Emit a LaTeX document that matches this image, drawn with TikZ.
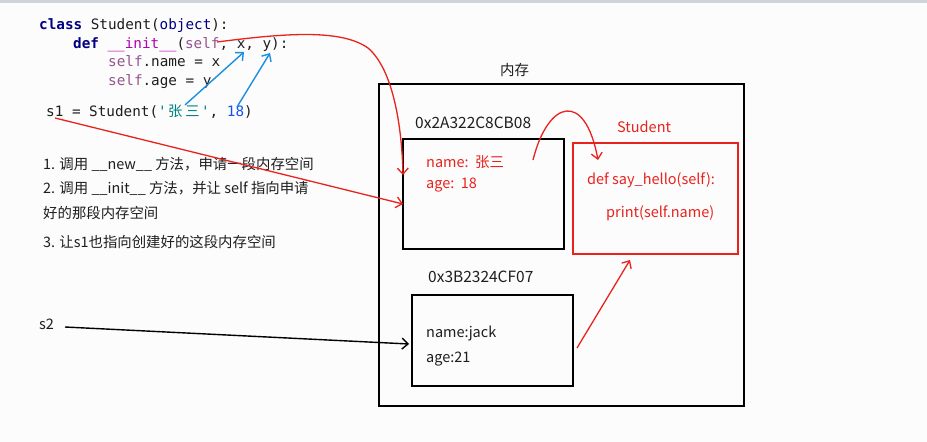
\documentclass[tikz,border=0pt]{standalone}
\usepackage{fontspec}
\setmainfont{Noto Sans CJK SC}
\newfontfamily\cjk{Noto Sans CJK SC}
\newfontfamily\codefont{DejaVu Sans Mono}
\usetikzlibrary{arrows.meta}
\definecolor{kw}{HTML}{000080}
\definecolor{magic}{HTML}{B200B2}
\definecolor{selfc}{HTML}{94558D}
\definecolor{strc}{HTML}{008080}
\definecolor{numc}{HTML}{1750EB}
\definecolor{pen}{HTML}{E8231E}
\definecolor{bluepen}{HTML}{1A8FE0}
\definecolor{txt}{HTML}{1E1E1E}
\definecolor{bg}{HTML}{FCFCFC}
\definecolor{bar}{HTML}{D0D4D8}
\newcommand{\cz}[1]{\makebox[17.2pt][c]{\cjk #1}}
\begin{document}
\begin{tikzpicture}[x=1pt,y=-1pt,
  code/.style={anchor=base west,inner sep=0pt,font=\codefont\fontsize{14.3}{17}\selectfont,text=txt},
  note/.style={anchor=base west,inner sep=0pt,font=\fontsize{14.4}{17}\selectfont,text=txt},
  lbl/.style={anchor=base west,inner sep=0pt,font=\fontsize{14.5}{17}\selectfont,text=txt},
  addr/.style={anchor=base west,inner sep=0pt,font=\fontsize{15.5}{17}\selectfont,text=txt},
  redlbl/.style={anchor=base west,inner sep=0pt,font=\fontsize{14.5}{17}\selectfont,text=pen},
  blackbox/.style={draw=black,line width=1.8pt,anchor=north west,inner sep=0pt},
  redbox/.style={draw=pen,line width=1.8pt,anchor=north west,inner sep=0pt},
  redarrow/.style={draw=pen,line width=1.3pt,-{Straight Barb[length=6pt,width=11pt,line width=1.3pt]}},
  bluearrow/.style={draw=bluepen,line width=1.4pt,-{Straight Barb[length=6pt,width=11pt,line width=1.4pt]}},
  blackarrow/.style={draw=black,line width=1.4pt,-{Straight Barb[length=6pt,width=11pt,line width=1.4pt]}}
]
\useasboundingbox (0,0) rectangle (927,442);
\fill[bg] (0,0) rectangle (927,442);
\fill[bar] (0,0) rectangle (927,2.5);

% code
\node[code] (c1) at (39,29) {\textcolor{kw}{\textbf{class}} Student(\textcolor{kw}{object}):};
\node[code] (c2) at (73,48) {\textcolor{kw}{\textbf{def}} \textcolor{magic}{\_\_init\_\_}(\textcolor{selfc}{self}, x, y):};
\node[code] (c3) at (108,66) {\textcolor{selfc}{self}.name = x};
\node[code] (c4) at (108,85) {\textcolor{selfc}{self}.age = y};
\node[code] (c5) at (46,116) {s1 = Student(\textcolor{strc}{'\cz{张}\cz{三}'}, \textcolor{numc}{18})};

% notes
\node[note] (n1) at (43,169) {1. 调用 \_\_new\_\_ 方法，申请一段内存空间};
\node[note] (n2) at (43,193) {2. 调用 \_\_init\_\_ 方法，并让 self 指向申请};
\node[note] (n3) at (43,218) {好的那段内存空间};
\node[note] (n4) at (43,247) {3. 让s1也指向创建好的这段内存空间};

\node[lbl] (s2) at (39,329) {s2};

% memory
\node[lbl] (memlbl) at (500,75) {内存};
\node[blackbox,minimum width=365pt,minimum height=322pt] (mem) at (378,83) {};

\node[addr] (addr1) at (415,128) {0x2A322C8CB08};
\node[blackbox,minimum width=161pt,minimum height=110pt] (box1) at (402,138) {};
\node[redlbl] (name1) at (426,167) {name:\ \ 张三};
\node[redlbl] (age1) at (426,188) {age:\ \ 18};

\node[redlbl] (stulbl) at (617,132) {Student};
\node[redbox,minimum width=165pt,minimum height=111pt] (stu) at (572,142) {};
\node[redlbl] (m1) at (587,184) {def say\_hello(self):};
\node[redlbl] (m2) at (606,217) {print(self.name)};

\node[addr] (addr2) at (428,282) {0x3B2324CF07};
\node[blackbox,minimum width=161pt,minimum height=91pt] (box2) at (411,294) {};
\node[lbl] (name2) at (426,337) {name:jack};
\node[lbl] (age2) at (426,362) {age:21};

% connector end points
\coordinate (selfpt) at (217,42);
\coordinate (box1top) at (403,175);
\coordinate (s1pt) at (55,118);
\coordinate (box1left) at (403,204);
\coordinate (zhang) at (185,105);
\coordinate (xpt) at (244,52);
\coordinate (num) at (237,107);
\coordinate (ypt) at (270,53);
\coordinate (b1out) at (533,160);
\coordinate (stuin) at (598,160);
\coordinate (b2out) at (577,348);
\coordinate (stubot) at (630,260);
\coordinate (s2pt) at (65,327);
\coordinate (box2left) at (409,344);

% blue arrows
\draw[bluearrow] (zhang) -- (xpt);
\draw[bluearrow] (num) -- (ypt);

% red arrows
\draw[redarrow] (selfpt) .. controls (280,34) and (340,28) .. (368,48)
   .. controls (394,70) and (402,130) .. (box1top);
\draw[redarrow] (s1pt) -- (box1left);
\draw[redarrow] (b1out) .. controls (548,100) and (585,90) .. (stuin);
\draw[redarrow] (b2out) -- (stubot);

% black arrow
\draw[blackarrow] (s2pt) -- (box2left);
\end{tikzpicture}
\end{document}
